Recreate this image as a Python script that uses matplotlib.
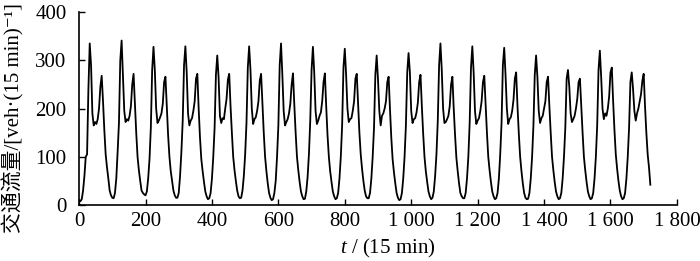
import numpy as np
import matplotlib
matplotlib.use('Agg')
from matplotlib import pyplot as plt

# Fuentes: serif latina + CJK para los caracteres chinos
plt.rcParams['font.family'] = ['Liberation Serif', 'Noto Sans CJK SC', 'DejaVu Serif']
plt.rcParams['mathtext.fontset'] = 'custom'
plt.rcParams['mathtext.rm'] = 'Liberation Serif'
plt.rcParams['mathtext.it'] = 'Liberation Serif:italic'

# Flujo de tráfico, un valor cada hora (4 intervalos de 15 min) por día
step = 4
flow_by_day = [
    [10, 8, 12, 30, 60, 100, 105, 240, 335, 290, 190, 165, 172, 168, 178, 200, 245, 268, 215, 155, 105, 78, 55, 30],
    [20, 15, 14, 25, 55, 110, 170, 300, 341, 270, 195, 172, 178, 175, 185, 205, 250, 272, 210, 150, 100, 72, 50, 30],
    [25, 22, 20, 28, 55, 95, 160, 280, 328, 280, 200, 170, 175, 182, 190, 210, 255, 266, 205, 145, 100, 70, 50, 30],
    [20, 15, 15, 25, 60, 110, 175, 290, 329, 275, 190, 165, 175, 180, 195, 215, 262, 272, 200, 140, 95, 70, 48, 28],
    [18, 12, 14, 25, 55, 100, 160, 270, 310, 265, 185, 170, 180, 178, 200, 220, 260, 272, 205, 150, 100, 72, 50, 30],
    [18, 14, 15, 30, 60, 105, 170, 285, 329, 280, 200, 168, 178, 182, 195, 215, 258, 272, 210, 150, 100, 70, 45, 25],
    [15, 10, 12, 25, 50, 100, 165, 290, 335, 270, 195, 165, 172, 178, 190, 210, 250, 273, 208, 150, 100, 72, 48, 28],
    [18, 12, 13, 28, 58, 105, 175, 280, 328, 275, 195, 168, 175, 185, 192, 215, 255, 273, 205, 145, 100, 70, 48, 28],
    [18, 12, 14, 25, 55, 100, 165, 285, 324, 270, 200, 172, 178, 180, 195, 215, 262, 272, 210, 150, 105, 75, 50, 30],
    [18, 14, 14, 25, 55, 100, 160, 270, 310, 260, 195, 165, 185, 190, 200, 215, 255, 266, 200, 140, 95, 68, 45, 25],
    [15, 10, 12, 25, 55, 100, 165, 275, 315, 275, 195, 170, 178, 180, 192, 212, 255, 270, 205, 148, 100, 70, 48, 28],
    [18, 12, 15, 28, 60, 105, 175, 290, 335, 280, 200, 170, 172, 178, 185, 205, 250, 266, 200, 145, 98, 70, 45, 25],
    [18, 14, 14, 25, 55, 100, 170, 285, 329, 275, 195, 168, 175, 180, 195, 215, 255, 268, 210, 150, 100, 72, 48, 28],
    [18, 12, 14, 25, 55, 105, 170, 290, 326, 270, 200, 168, 178, 182, 195, 218, 262, 275, 205, 148, 100, 70, 45, 25],
    [15, 12, 13, 25, 55, 100, 165, 270, 310, 265, 195, 170, 180, 185, 200, 215, 255, 266, 205, 150, 100, 72, 48, 28],
    [18, 12, 14, 25, 55, 100, 160, 262, 280, 245, 190, 172, 178, 185, 200, 220, 255, 262, 205, 150, 100, 72, 48, 28],
    [18, 12, 14, 25, 55, 100, 165, 280, 320, 265, 200, 178, 190, 185, 200, 225, 275, 285, 215, 155, 105, 75, 50, 30],
    [18, 12, 14, 25, 55, 100, 160, 255, 275, 240, 195, 175, 190, 200, 215, 230, 258, 272, 205, 150, 105, 78, 42],
]
x_ticks = [0, 200, 400, 600, 800, 1000, 1200, 1400, 1600, 1800]
x_tick_labels = ['0', '200', '400', '600', '800', '1 000', '1 200', '1 400', '1 600', '1 800']
y_ticks = [0, 100, 200, 300, 400]

flow = np.concatenate([np.array(d, dtype=float) for d in flow_by_day])
t = np.arange(len(flow)) * step

fig = plt.figure(figsize=(7, 2.61), dpi=100)
ax = fig.add_axes([0.113, 0.2146, 0.854, 0.739])
ax.plot(t, flow, color='black', lw=1.3)

ax.set_xlim(0, 1800)
ax.set_ylim(0, 400)
ax.set_xticks(x_ticks)
ax.set_xticklabels(x_tick_labels)
ax.set_yticks(y_ticks)
ax.tick_params(direction='in', length=4, width=1, labelsize=15)
ax.tick_params(axis='y', pad=9)
ax.tick_params(axis='x', pad=5)
for s in ['top', 'right']:
    ax.spines[s].set_visible(False)
for s in ['left', 'bottom']:
    ax.spines[s].set_linewidth(1.2)

# sin mathtext para que los caracteres chinos usen la fuente CJK
ax.set_ylabel('交通流量/[veh·(15 min)\u207b\u00b9]', fontsize=15)
ax.yaxis.set_label_coords(-0.092, 0.45)
ax.set_xlabel('$t$ / (15 min)', fontsize=15)
ax.xaxis.set_label_coords(0.517, -0.165)

plt.savefig('out.png', dpi=100)
